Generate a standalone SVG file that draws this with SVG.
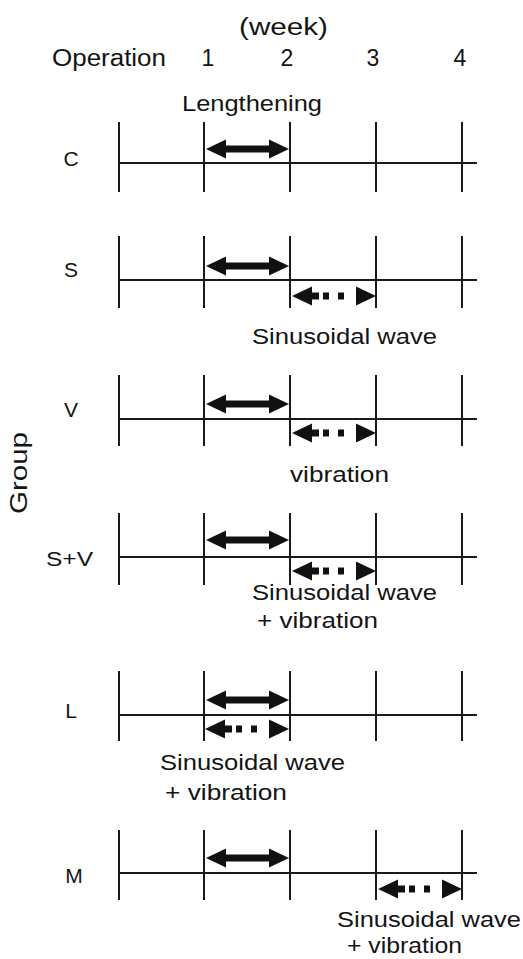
<svg xmlns="http://www.w3.org/2000/svg" xmlns:xlink="http://www.w3.org/1999/xlink" width="523" height="959" viewBox="0 0 523 959">
<style>
text { font-family: "Liberation Sans", Arial, sans-serif; fill: #141414; }
.top { font-size: 23px; }
.lab { font-size: 21px; }
.ann { font-size: 22px; }
.tl { stroke: #1a1a1a; stroke-width: 2; fill: none; }
.ar { fill: #111; }
</style>
<defs>
<g id="sa" class="ar"><polygon points="0,0 20,-9.5 20,-3.5 63,-3.5 63,-9.5 83,0 63,9.5 63,3.5 20,3.5 20,9.5"/></g>
<g id="da" class="ar"><polygon points="0,0 20,-9.5 20,9.5"/><rect x="19" y="-3.5" width="8" height="7"/><rect x="31" y="-3.5" width="6" height="7"/><rect x="46" y="-3.5" width="6" height="7"/><polygon points="84,0 64,-9.5 64,9.5"/></g>
</defs>
<rect width="523" height="959" fill="#ffffff"/>
<g id="header">
<text class="top" x="239" y="35" textLength="89" lengthAdjust="spacingAndGlyphs">(week)</text>
<text class="top" x="52" y="66" textLength="114" lengthAdjust="spacingAndGlyphs">Operation</text>
<text class="top" x="208" y="66" text-anchor="middle">1</text>
<text class="top" x="287" y="66" text-anchor="middle">2</text>
<text class="top" x="373" y="66" text-anchor="middle">3</text>
<text class="top" x="460" y="66" text-anchor="middle">4</text>
<text class="ann" x="182" y="111" textLength="140" lengthAdjust="spacingAndGlyphs">Lengthening</text>
</g>
<g id="axis-label">
<text class="top" transform="translate(26.5,514) rotate(-90)" textLength="82" lengthAdjust="spacingAndGlyphs">Group</text>
</g>
<g id="row-C">
<path class="tl" d="M119,163H477M119,122V192M204,122V192M290,122V192M376,122V192M462,122V192"/>
<text class="lab" x="71" y="166" text-anchor="middle">C</text>
</g>
<g id="row-S">
<path class="tl" d="M119,280H477M119,236V308M204,236V308M290,236V308M376,236V308M462,236V308"/>
<text class="lab" x="71" y="277" text-anchor="middle">S</text>
<text class="ann" x="252" y="344" textLength="185" lengthAdjust="spacingAndGlyphs">Sinusoidal wave</text>
</g>
<g id="row-V">
<path class="tl" d="M119,419H477M119,375V446M204,375V446M290,375V446M376,375V446M462,375V446"/>
<text class="lab" x="71" y="417" text-anchor="middle">V</text>
<text class="ann" x="290" y="482" textLength="99" lengthAdjust="spacingAndGlyphs">vibration</text>
</g>
<g id="row-SV">
<path class="tl" d="M119,557H477M119,513V585M204,513V585M290,513V585M376,513V585M462,513V585"/>
<text class="lab" x="46" y="566" textLength="47" lengthAdjust="spacingAndGlyphs">S+V</text>
<text class="ann" x="252" y="600" textLength="185" lengthAdjust="spacingAndGlyphs">Sinusoidal wave</text>
<text class="ann" x="257" y="628" textLength="121" lengthAdjust="spacingAndGlyphs">+ vibration</text>
</g>
<g id="row-L">
<path class="tl" d="M119,715H477M119,671V741M204,671V741M290,671V741M376,671V741M462,671V741"/>
<text class="lab" x="71" y="718" text-anchor="middle">L</text>
<text class="ann" x="160" y="770" textLength="185" lengthAdjust="spacingAndGlyphs">Sinusoidal wave</text>
<text class="ann" x="165" y="800" textLength="122" lengthAdjust="spacingAndGlyphs">+ vibration</text>
</g>
<g id="row-M">
<path class="tl" d="M119,873H477M119,830V900M204,830V900M290,830V900M376,830V900M462,830V900"/>
<text class="lab" x="74" y="883" text-anchor="middle">M</text>
<text class="ann" x="337" y="927" textLength="184" lengthAdjust="spacingAndGlyphs">Sinusoidal wave</text>
<text class="ann" x="347" y="953" textLength="115" lengthAdjust="spacingAndGlyphs">+ vibration</text>
</g>
<g id="connectors">
<use xlink:href="#sa" x="206" y="149"/>
<use xlink:href="#sa" x="206" y="266"/>
<use xlink:href="#da" x="292" y="296"/>
<use xlink:href="#sa" x="206" y="404"/>
<use xlink:href="#da" x="292" y="433"/>
<use xlink:href="#sa" x="206" y="540"/>
<use xlink:href="#da" x="292" y="571"/>
<use xlink:href="#sa" x="206" y="700"/>
<use xlink:href="#da" x="205" y="729"/>
<use xlink:href="#sa" x="206" y="858"/>
<use xlink:href="#da" x="378" y="889"/>
</g>
</svg>
